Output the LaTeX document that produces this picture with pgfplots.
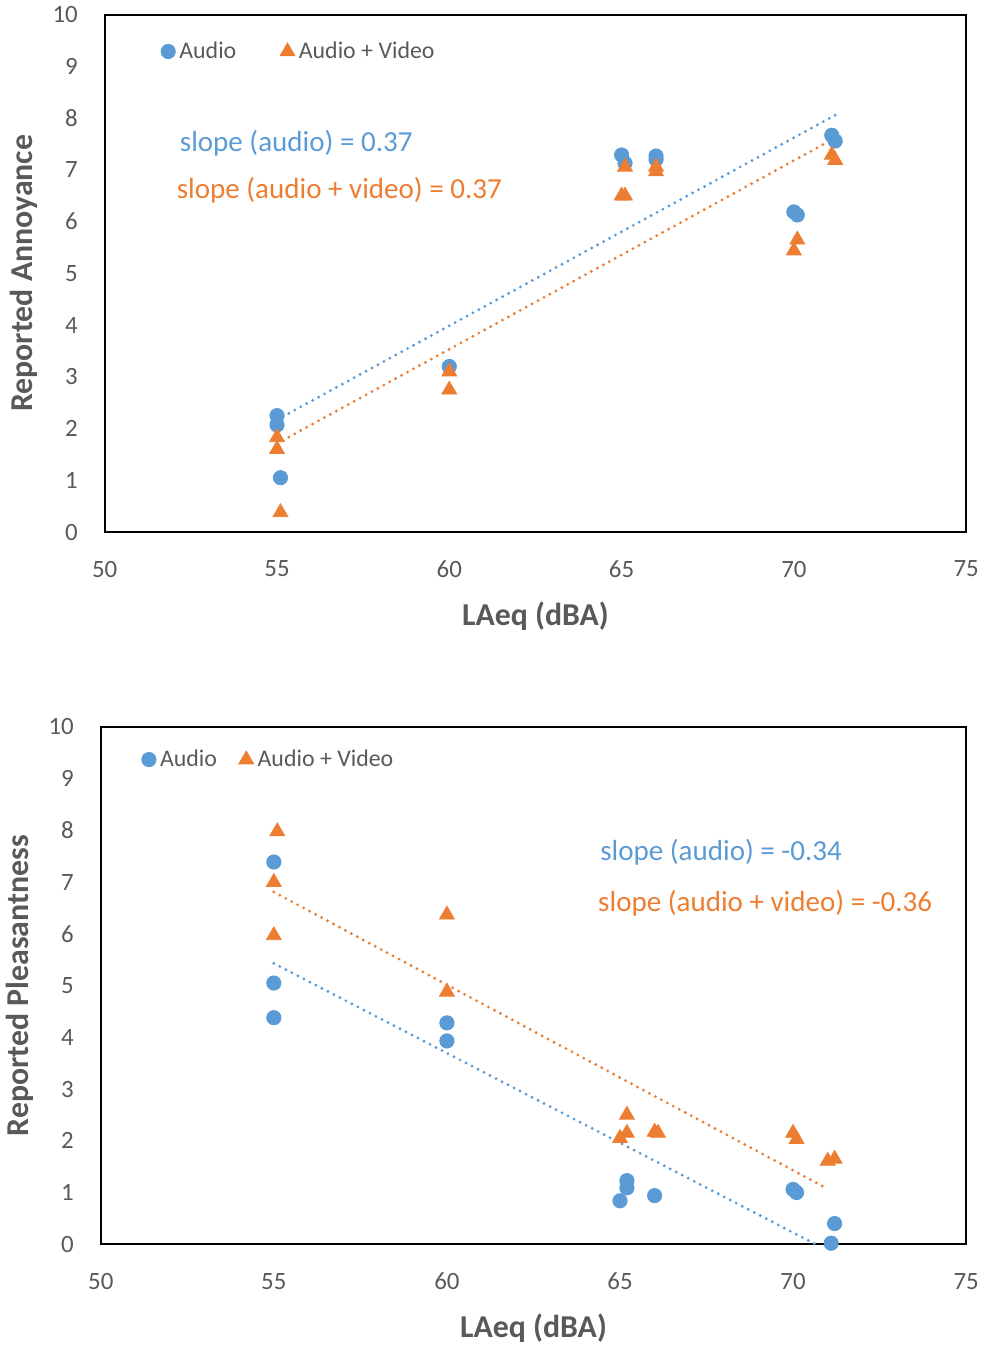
\documentclass[border=0pt]{standalone}
\usepackage{pgfplots}
\pgfplotsset{compat=1.18}
\usepackage{fontspec}
\setmainfont{Carlito}
\definecolor{cblue}{HTML}{5B9BD5}
\definecolor{corange}{HTML}{ED7D31}
\definecolor{txtgray}{HTML}{595959}

\tikzset{slopetxt/.style={anchor=west, font=\fontsize{14.6}{17}\selectfont, inner sep=0pt}}
\pgfplotsset{
  scatterstyle/.style={
    scale only axis, width=433pt, height=260pt,
    xmin=50, xmax=75, ymin=0, ymax=10,
    xtick distance=5, ytick distance=1,
    axis line style={black, line width=1pt},
    major tick length=0pt,
    /pgf/number format/assume math mode=true,
    tick label style={font=\fontsize{12.5}{14}\selectfont, text=txtgray},
    yticklabel style={xshift=-10pt},
    xticklabel style={yshift=-11pt},
    label style={font=\fontsize{16}{18}\selectfont\bfseries, text=txtgray},
    xlabel style={yshift=-5pt},
    ylabel style={yshift=0.5pt},
    clip=false,
    legend style={draw=none, fill=none, font=\fontsize{12}{14}\selectfont, text=txtgray,
      legend columns=2, anchor=west},
  },
  audiomark/.style={only marks, mark=*, mark size=3.6pt, color=cblue},
  videomark/.style={only marks, mark=triangle*, mark size=4.3pt, color=corange},
  trend/.style={line width=1.6pt, line cap=round, dash pattern=on 0pt off 3.4pt, forget plot},
}

\begin{document}
\begin{tikzpicture}
% top: annoyance
\begin{axis}[scatterstyle,
  xlabel={LAeq (dBA)}, ylabel={Reported Annoyance},
  legend style={at={(0.058,0.929)}, /tikz/column 2/.style={column sep=20pt}},
]
\addplot[audiomark] coordinates {
  (55.0,2.25) (55.0,2.07) (55.1,1.05) (60.0,3.2)
  (65.0,7.29) (65.1,7.13) (66.0,7.27) (66.0,7.2)
  (70.0,6.19) (70.1,6.13) (71.1,7.67) (71.2,7.56)
};
\addlegendentry{Audio}
\addplot[videomark] coordinates {
  (55.0,1.83) (55.0,1.6) (55.1,0.38) (60.0,3.1) (60.0,2.75)
  (65.1,7.06) (65.0,6.5) (65.1,6.5) (66.0,7.06) (66.0,6.97)
  (70.1,5.65) (70.0,5.44) (71.1,7.29) (71.2,7.19)
};
\addlegendentry{Audio + Video}
\addplot[trend, color=cblue] coordinates {(55.0,2.17) (71.2,8.06)};
\addplot[trend, color=corange] coordinates {(55.0,1.71) (71.2,7.62)};
\node[slopetxt, text=cblue] at (axis cs:52.17,7.52) {slope (audio) = 0.37};
\node[slopetxt, text=corange] at (axis cs:52.08,6.6) {slope (audio + video) = 0.37};
\node[inner sep=0pt] at ([xshift=8.5pt]rel axis cs:1,1) {};
\end{axis}

% bottom: pleasantness
\begin{axis}[scatterstyle, at={(-2pt,-98pt)}, anchor=north west,
  width=435pt,
  xlabel={LAeq (dBA)}, ylabel={Reported Pleasantness},
  legend style={at={(0.040,0.937)}, /tikz/column 2/.style={column sep=9pt}},
]
\addplot[audiomark] coordinates {
  (55.0,7.39) (55.0,5.05) (55.0,4.38) (60.0,4.28) (60.0,3.93)
  (65.2,1.23) (65.2,1.09) (65.0,0.84) (66.0,0.94)
  (70.0,1.06) (70.1,1.0) (71.2,0.4) (71.1,0.02)
};
\addlegendentry{Audio}
\addplot[videomark] coordinates {
  (55.1,7.98) (55.0,7.0) (55.0,5.97) (60.0,6.37) (60.0,4.88)
  (65.2,2.5) (65.2,2.15) (65.0,2.05) (66.0,2.17) (66.1,2.15)
  (70.0,2.15) (70.1,2.03) (71.0,1.61) (71.2,1.65)
};
\addlegendentry{Audio + Video}
\addplot[trend, color=cblue] coordinates {(55.0,5.43) (70.65,0.0)};
\addplot[trend, color=corange] coordinates {(55.0,6.81) (71.0,1.07)};
\node[slopetxt, text=cblue] at (axis cs:64.42,7.58) {slope (audio) = -0.34};
\node[slopetxt, text=corange] at (axis cs:64.36,6.6) {slope (audio + video) = -0.36};
\end{axis}
\end{tikzpicture}
\end{document}
